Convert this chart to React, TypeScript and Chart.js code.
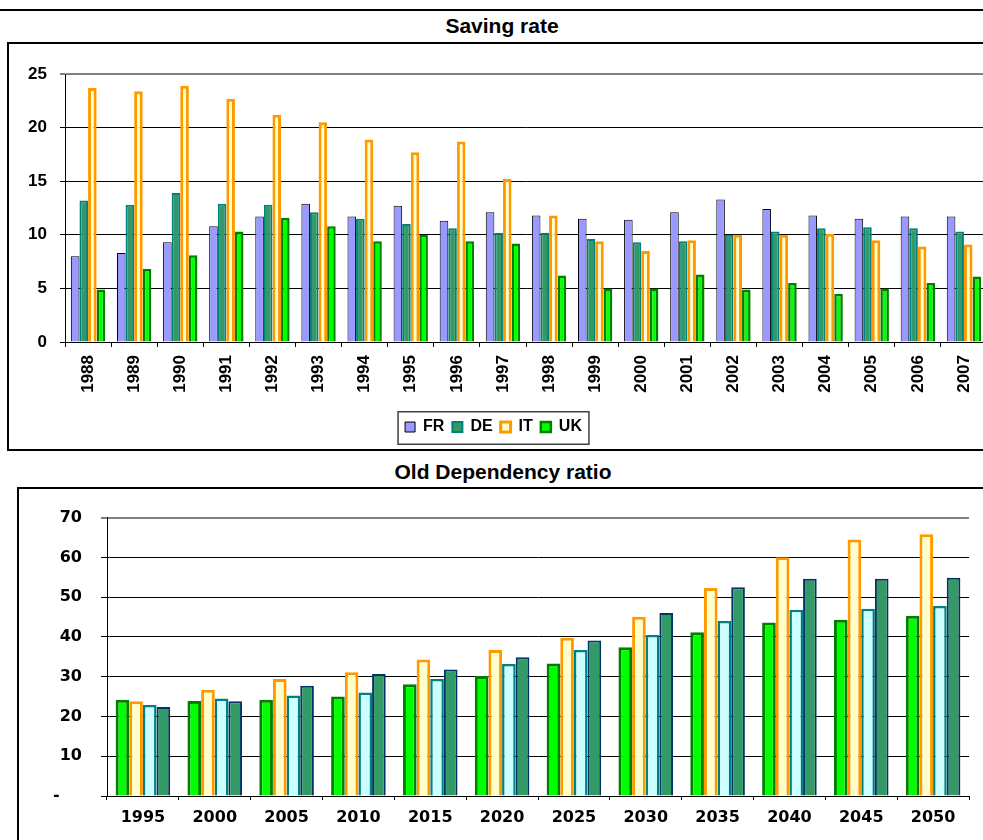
import React, { useEffect, useRef } from "react";
import { Chart, registerables } from "chart.js";

Chart.register(...registerables);

// ---------- Saving rate data ----------
const savingYears = [
  "1988", "1989", "1990", "1991", "1992", "1993", "1994", "1995", "1996", "1997",
  "1998", "1999", "2000", "2001", "2002", "2003", "2004", "2005", "2006", "2007",
];
const savingFR = [8.0, 8.3, 9.3, 10.8, 11.7, 12.9, 11.7, 12.7, 11.3, 12.1, 11.8, 11.5, 11.4, 12.1, 13.3, 12.4, 11.8, 11.5, 11.7, 11.7];
const savingDE = [13.2, 12.8, 13.9, 12.9, 12.8, 12.1, 11.5, 11.0, 10.6, 10.2, 10.2, 9.6, 9.3, 9.4, 10.0, 10.3, 10.6, 10.7, 10.6, 10.3];
const savingIT = [23.7, 23.4, 23.9, 22.7, 21.2, 20.5, 18.9, 17.7, 18.7, 15.2, 11.8, 9.4, 8.5, 9.5, 10.0, 10.0, 10.1, 9.5, 8.9, 9.1];
const savingUK = [4.9, 6.8, 8.1, 10.3, 11.6, 10.8, 9.4, 10.0, 9.4, 9.2, 6.2, 5.0, 5.0, 6.3, 4.9, 5.5, 4.5, 5.0, 5.5, 6.1];
const savingMax = 25;
const savingStep = 5;

// ---------- Old dependency ratio data ----------
const depYears = ["1995", "2000", "2005", "2010", "2015", "2020", "2025", "2030", "2035", "2040", "2045", "2050"];
const depSeries1 = [24.2, 23.9, 24.2, 25.0, 28.1, 30.2, 33.3, 37.4, 41.2, 43.6, 44.3, 45.3];
const depSeries2 = [23.8, 26.7, 29.4, 31.1, 34.3, 36.7, 39.8, 45.1, 52.3, 60.0, 64.5, 65.8];
const depSeries3 = [22.9, 24.5, 25.3, 26.0, 29.4, 33.2, 36.7, 40.5, 44.0, 46.8, 47.1, 47.8];
const depSeries4 = [22.4, 23.8, 27.7, 30.7, 31.8, 34.9, 39.1, 46.0, 52.5, 54.6, 54.6, 54.9];
const depMax = 70;
const depStep = 10;

const ARIAL = '"Liberation Sans", Arial, sans-serif';
const VERDANA = '"DejaVu Sans", Verdana, sans-serif';

const legendFrame = {
  id: "legendFrame",
  afterDraw(chart: any) {
    const lg = chart.legend;
    if (!lg || !lg.options.display || !lg.legendHitBoxes || !lg.legendHitBoxes.length) return;
    const hb = lg.legendHitBoxes;
    const first = hb[0];
    const last = hb[hb.length - 1];
    const x0 = first.left - 7;
    const x1 = last.left + last.width + 7;
    const ctx = chart.ctx;
    ctx.save();
    ctx.strokeStyle = "#404040";
    ctx.lineWidth = 1.5;
    ctx.strokeRect(x0, lg.top + 0.75, x1 - x0, lg.height - 1.5);
    ctx.restore();
  },
};

function SavingChart() {
  const ref = useRef<HTMLCanvasElement | null>(null);
  useEffect(() => {
    if (!ref.current) return;
    const n = savingYears.length;
    const chart = new Chart(ref.current, {
      type: "bar",
      data: {
        labels: savingYears,
        datasets: [
          { label: "FR", data: savingFR, backgroundColor: "#9999FF", borderColor: "#000000", borderWidth: 1 },
          { label: "DE", data: savingDE, backgroundColor: "#339966", borderColor: "#008080", borderWidth: 2 },
          { label: "IT", data: savingIT, backgroundColor: "#FFFFCC", borderColor: "#FF9900", borderWidth: 3 },
          { label: "UK", data: savingUK, backgroundColor: "#00FF00", borderColor: "#008000", borderWidth: 2.5 },
        ],
      },
      options: {
        responsive: false,
        animation: false,
        devicePixelRatio: 1,
        datasets: { bar: { categoryPercentage: 0.745, barPercentage: 1 } },
        layout: { padding: { top: 31, left: 0, right: 13, bottom: 5 } },
        plugins: {
          title: { display: false },
          tooltip: { enabled: false },
          legend: {
            display: true,
            position: "bottom",
            labels: {
              boxWidth: 10,
              boxHeight: 10,
              padding: 8,
              color: "#000",
              font: { family: ARIAL, size: 16, weight: "bold" },
            },
          },
        },
        scales: {
          x: {
            offset: true,
            border: { display: true, color: "#000", width: 1 },
            grid: {
              offset: true,
              drawOnChartArea: true,
              drawTicks: true,
              tickLength: 5,
              tickColor: "#000",
              tickWidth: 1,
              color: (c: any) => (c.index === n ? "#808080" : "rgba(0,0,0,0)"),
              lineWidth: (c: any) => (c.index === n ? 2 : 1),
            },
            ticks: {
              autoSkip: false,
              minRotation: 90,
              maxRotation: 90,
              padding: 8,
              color: "#000",
              font: { family: ARIAL, size: 17, weight: "bold" },
            },
            afterFit: (s: any) => {
              s.height = 69;
            },
          },
          y: {
            min: 0,
            max: savingMax,
            border: { display: true, color: "#000", width: 1 },
            grid: {
              drawTicks: true,
              tickLength: 5,
              tickColor: "#000",
              tickWidth: 1,
              color: (c: any) => (c.tick && c.tick.value === savingMax ? "#808080" : "#000"),
              lineWidth: (c: any) => (c.tick && c.tick.value === savingMax ? 2 : 1),
            },
            ticks: {
              stepSize: savingStep,
              padding: 13,
              color: "#000",
              font: { family: ARIAL, size: 17, weight: "bold" },
            },
            afterFit: (s: any) => {
              s.width = 65;
            },
          },
        },
      },
      plugins: [legendFrame],
    } as any);
    return () => chart.destroy();
  }, []);
  return (
    <canvas
      ref={ref}
      width={1000}
      height={407}
      style={{ position: "absolute", left: 0, top: 43, width: 1000, height: 407 }}
    />
  );
}

function DependencyChart() {
  const ref = useRef<HTMLCanvasElement | null>(null);
  useEffect(() => {
    if (!ref.current) return;
    const n = depYears.length;
    const chart = new Chart(ref.current, {
      type: "bar",
      data: {
        labels: depYears,
        datasets: [
          { label: "Series 1", data: depSeries1, backgroundColor: "#00FF00", borderColor: "#008000", borderWidth: 3 },
          { label: "Series 2", data: depSeries2, backgroundColor: "#FFFFCC", borderColor: "#FF9900", borderWidth: 3 },
          { label: "Series 3", data: depSeries3, backgroundColor: "#CCFFFF", borderColor: "#008080", borderWidth: 2.5 },
          { label: "Series 4", data: depSeries4, backgroundColor: "#339966", borderColor: "#003366", borderWidth: 2 },
        ],
      },
      options: {
        responsive: false,
        animation: false,
        devicePixelRatio: 1,
        datasets: { bar: { categoryPercentage: 0.76, barPercentage: 1 } },
        layout: { padding: { top: 28, left: 0, right: 31, bottom: 4 } },
        plugins: {
          title: { display: false },
          tooltip: { enabled: false },
          legend: { display: false },
        },
        scales: {
          x: {
            offset: true,
            border: { display: true, color: "#000", width: 1 },
            grid: {
              offset: true,
              drawOnChartArea: true,
              drawTicks: true,
              tickLength: 4,
              tickColor: "#000",
              tickWidth: 1,
              color: (c: any) => (c.index === n ? "#808080" : "rgba(0,0,0,0)"),
              lineWidth: (c: any) => (c.index === n ? 2 : 1),
            },
            ticks: {
              autoSkip: false,
              maxRotation: 0,
              padding: 8,
              color: "#000",
              font: { family: VERDANA, size: 16, weight: "bold" },
            },
            afterFit: (s: any) => {
              s.height = 40;
            },
          },
          y: {
            min: 0,
            max: depMax,
            border: { display: true, color: "#000", width: 1 },
            grid: {
              drawTicks: true,
              tickLength: 6,
              tickColor: "#000",
              tickWidth: 1,
              color: (c: any) => (c.tick && c.tick.value === depMax ? "#808080" : "#000"),
              lineWidth: (c: any) => (c.tick && c.tick.value === depMax ? 2 : 1),
            },
            ticks: {
              stepSize: depStep,
              padding: 19,
              color: "#000",
              font: { family: VERDANA, size: 16, weight: "bold" },
              callback: (v: any) => (Number(v) === 0 ? "-\u2007\u2007" : String(v)),
            },
            afterFit: (s: any) => {
              s.width = 107;
            },
          },
        },
      },
    } as any);
    return () => chart.destroy();
  }, []);
  return (
    <canvas
      ref={ref}
      width={1000}
      height={351}
      style={{ position: "absolute", left: 0, top: 489, width: 1000, height: 351 }}
    />
  );
}

export default function App() {
  return (
    <div
      style={{
        position: "fixed",
        left: 0,
        top: 0,
        width: 983,
        height: 840,
        overflow: "hidden",
        background: "#ffffff",
      }}
    >
      <div style={{ position: "absolute", left: 0, top: 9, width: 1100, height: 2, background: "#000" }} />
      <div
        style={{
          position: "absolute",
          left: 0,
          top: 14.5,
          width: 1004,
          textAlign: "center",
          font: `bold 21px/21px ${ARIAL}`,
          color: "#000",
          whiteSpace: "nowrap",
        }}
      >
        Saving rate
      </div>
      <div
        style={{
          position: "absolute",
          left: 7,
          top: 42,
          width: 1100,
          height: 409,
          border: "2px solid #000",
          boxSizing: "border-box",
        }}
      />
      <SavingChart />
      <div
        style={{
          position: "absolute",
          left: 0,
          top: 460.5,
          width: 1006,
          textAlign: "center",
          font: `bold 21px/21px ${ARIAL}`,
          color: "#000",
          whiteSpace: "nowrap",
        }}
      >
        Old Dependency ratio
      </div>
      <div
        style={{
          position: "absolute",
          left: 17,
          top: 487,
          width: 1100,
          height: 500,
          border: "2px solid #000",
          boxSizing: "border-box",
        }}
      />
      <DependencyChart />
    </div>
  );
}
